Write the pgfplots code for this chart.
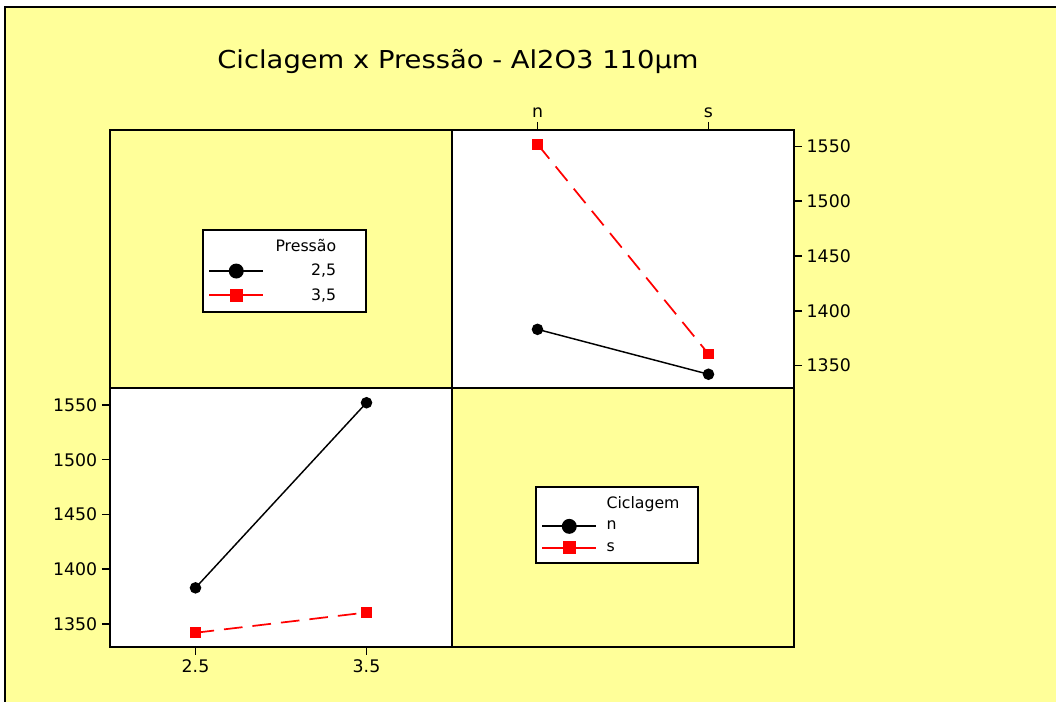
\documentclass[border=0pt]{standalone}
\usepackage{fontspec}
\setmainfont{DejaVu Sans}
\usepackage{graphicx}
\usepackage{pgfplots}
\pgfplotsset{compat=1.18}
\definecolor{bgyellow}{RGB}{255,255,153}
\pgfplotsset{
  panel/.style={scale only axis, width=256.5pt, height=193.875pt, anchor=south west,
    axis line style={line width=1.5pt},
    tick style={line width=1.2pt, black}, tick align=outside, major tick length=6pt,
    ymin=1329, ymax=1565, ytick={1350,1400,1450,1500,1550},
    ticklabel style={font=\fontsize{13}{15}\selectfont},
    axis background/.style={fill=white},
    /pgf/number format/assume math mode=true,
    /pgf/number format/set thousands separator={},
    clip=false,
    legend image code/.code={\draw[mark repeat=2,mark phase=2] plot coordinates {(0pt,0pt) (20.25pt,0pt) (40.5pt,0pt)};},
    legend style={anchor=north west, draw=black, line width=1.5pt, fill=white,
      font=\fontsize{11.8}{14}\selectfont, row sep=4pt, column sep=5pt, inner xsep=4pt, inner ysep=5pt},
  },
  blk/.style={black, line width=1.1pt, mark=*, mark size=3.75pt},
  rd/.style={red, line width=1.3pt, dash pattern=on 14pt off 7.5pt, mark=square*, mark size=3.4pt, mark options={solid}},
  lblk/.style={black, line width=1.4pt, mark=*, mark size=4.9pt},
  lrd/.style={red, line width=1.4pt, solid, mark=square*, mark size=4.2pt},
}
\newcommand{\LA}[1]{\makebox[63pt][l]{\makebox[47pt][r]{#1}}}
\newcommand{\LB}[1]{\makebox[62.25pt][l]{#1}}
\begin{document}
\begin{tikzpicture}
\useasboundingbox (0,0) rectangle (792pt,526.5pt);
\fill[white] (0,0) rectangle (792pt,526.5pt);
\fill[bgyellow] (3.75pt,0) rectangle (792pt,521.25pt);
\draw[line width=1.5pt] (3.75pt,0) -- (3.75pt,521.25pt) -- (792pt,521.25pt);
\node[anchor=base] at (343.5pt,475pt) {\resizebox{361pt}{\height}{\fontsize{18.5}{22}\selectfont Ciclagem x Pressão - Al2O3 110µm}};
\draw[line width=1.5pt] (82.5pt,235.125pt) rectangle (339pt,429pt);
\draw[line width=1.5pt] (339pt,41.25pt) rectangle (595.5pt,235.125pt);
% top right: x = Ciclagem, lines = Pressao
\begin{axis}[panel, at={(339pt,235.125pt)}, xmin=-0.5, xmax=1.5, xtick={0,1}, xticklabels={n,s},
  xtick pos=right, xticklabel pos=right, ytick pos=right, yticklabel pos=right,
  legend style={at={(-0.731,0.617)}}, legend cell align=left]
\addplot[blk, forget plot] coordinates {(0,1383) (1,1342)};
\addplot[rd, forget plot] coordinates {(0,1552) (1,1360.5)};
\addlegendimage{empty legend}
\addlegendentry{\LA{Pressão}}
\addlegendimage{lblk}
\addlegendentry{\LA{2,5}}
\addlegendimage{lrd}
\addlegendentry{\LA{3,5}}
\end{axis}
% bottom left: x = Pressao, lines = Ciclagem
\begin{axis}[panel, at={(82.5pt,41.25pt)}, xmin=2, xmax=4, xtick={2.5,3.5}, xticklabels={2.5,3.5},
  xtick pos=left, ytick pos=left,
  legend style={at={(1.2427,0.6228)}}, legend cell align=left]
\addplot[blk, forget plot] coordinates {(2.5,1383) (3.5,1552)};
\addplot[rd, forget plot] coordinates {(2.5,1342) (3.5,1360.5)};
\addlegendimage{empty legend}
\addlegendentry{\LB{Ciclagem}}
\addlegendimage{lblk}
\addlegendentry{\LB{n}}
\addlegendimage{lrd}
\addlegendentry{\LB{s}}
\end{axis}
\end{tikzpicture}
\end{document}
